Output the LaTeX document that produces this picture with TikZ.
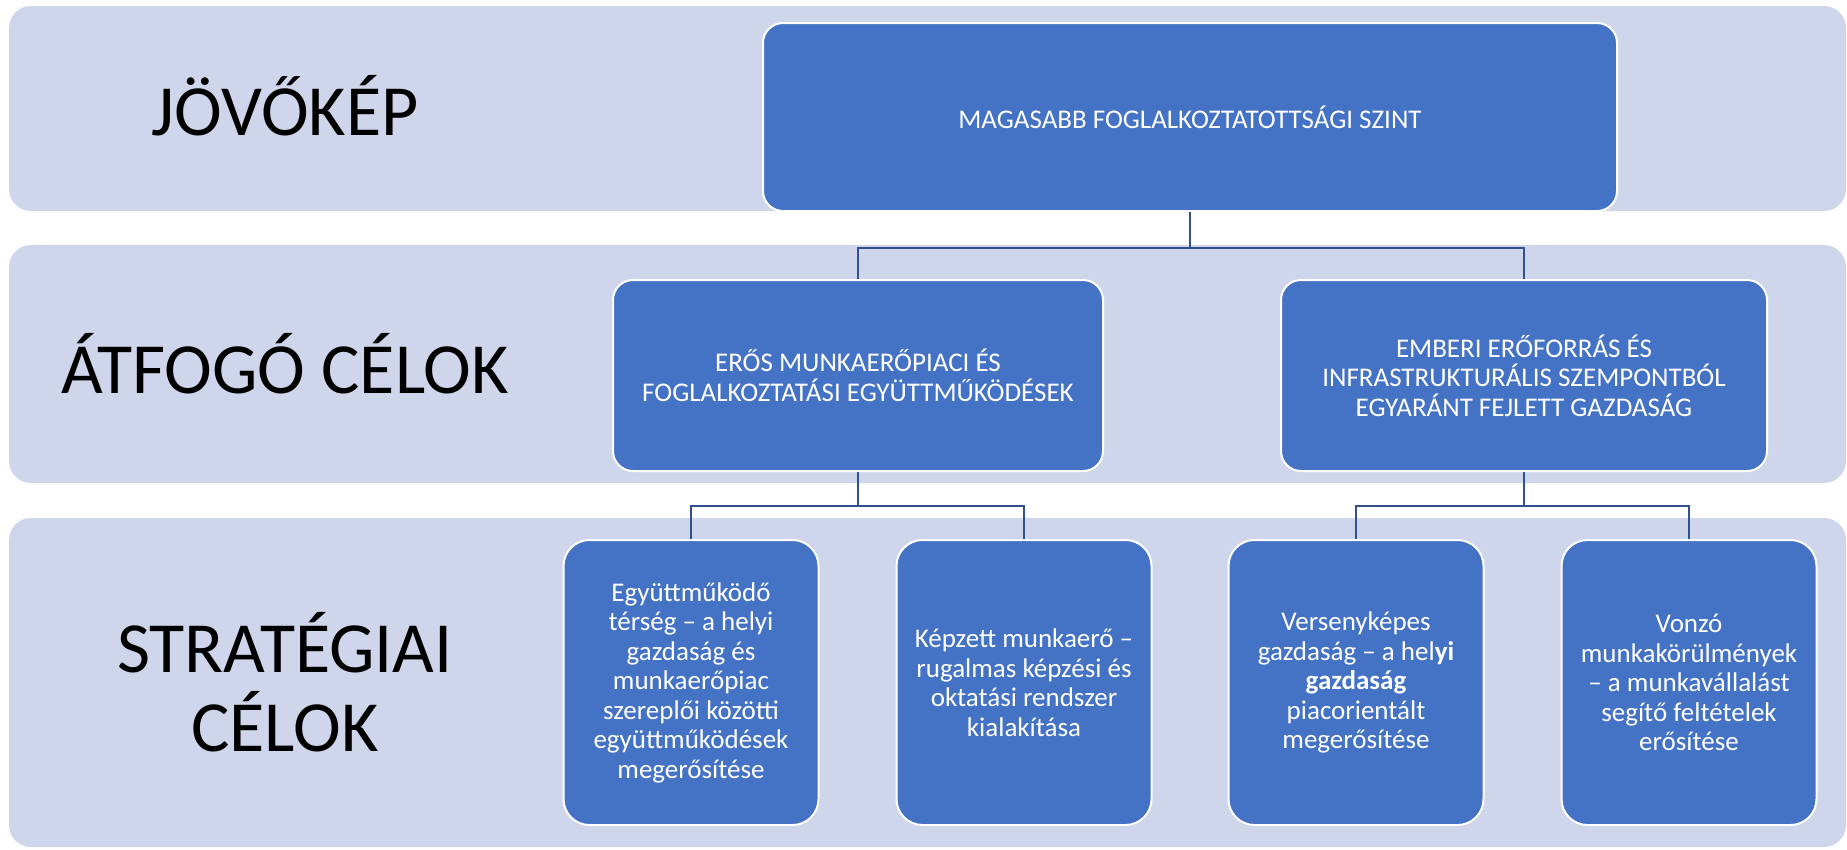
\documentclass[tikz,border=0pt]{standalone}
\usepackage{fontspec}
\setmainfont{Carlito}
\definecolor{bandfill}{HTML}{CFD5EA}
\definecolor{boxfill}{HTML}{4472C4}
\definecolor{linkblue}{HTML}{2F528F}

\begin{document}
\begin{tikzpicture}[x=1pt,y=-1pt,
    band/.style={fill=bandfill,rounded corners=22pt},
    box/.style={draw=white,line width=2pt,fill=boxfill,rounded corners=20pt,
        text=white,align=center,inner sep=0pt,font=\fontsize{27}{29.5}\selectfont},
    goal/.style={box,minimum width=255pt,minimum height=285pt,rounded corners=26pt},
    level/.style={font=\fontsize{72}{79}\selectfont,align=center},
    link/.style={draw=linkblue,line width=2.5pt}]
    \useasboundingbox (0,0) rectangle (1847,849);
    % bands
    \fill[band] (9,6) rectangle (1846,211);
    \fill[band] (9,245) rectangle (1846,483);
    \fill[band] (9,518) rectangle (1846,847);
    \node[level] (jovo) at (285,106) {JÖVŐKÉP};
    \node[level] (atfo) at (285,364) {ÁTFOGÓ CÉLOK};
    \node[level] (strat) at (285,682) {STRATÉGIAI\\CÉLOK};
    % boxes
    \node[box,minimum width=854pt,minimum height=188pt] (top) at (1190,117)
        {MAGASABB FOGLALKOZTATOTTSÁGI SZINT};
    \node[box,minimum width=490pt,minimum height=191pt] (gL) at (858,375.5)
        {ERŐS MUNKAERŐPIACI ÉS\\FOGLALKOZTATÁSI EGYÜTTMŰKÖDÉSEK};
    \node[box,minimum width=486pt,minimum height=191pt] (gR) at (1524,375.5)
        {EMBERI ERŐFORRÁS ÉS\\INFRASTRUKTURÁLIS SZEMPONTBÓL\\EGYARÁNT FEJLETT GAZDASÁG};
    \node[goal] (s1) at (691,682.5) {Együttműködő\\térség -- a helyi\\gazdaság és\\munkaerőpiac\\szereplői közötti\\együttműködések\\megerősítése};
    \node[goal] (s2) at (1024,682.5) {Képzett munkaerő --\\rugalmas képzési és\\oktatási rendszer\\kialakítása};
    \node[goal] (s3) at (1356,682.5) {Versenyképes\\gazdaság -- a hel\textbf{yi}\\\textbf{gazdaság}\\piacorientált\\megerősítése};
    \node[goal] (s4) at (1689,682.5) {Vonzó\\munkakörülmények\\-- a munkavállalást\\segítő feltételek\\erősítése};
    % connectors
    \draw[link] (top.south) -- ++(0,36) -| (gL.north);
    \draw[link] (top.south) -- ++(0,36) -| (gR.north);
    \draw[link] (gL.south) -- ++(0,34) -| (s1.north);
    \draw[link] (gL.south) -- ++(0,34) -| (s2.north);
    \draw[link] (gR.south) -- ++(0,34) -| (s3.north);
    \draw[link] (gR.south) -- ++(0,34) -| (s4.north);
\end{tikzpicture}
\end{document}
